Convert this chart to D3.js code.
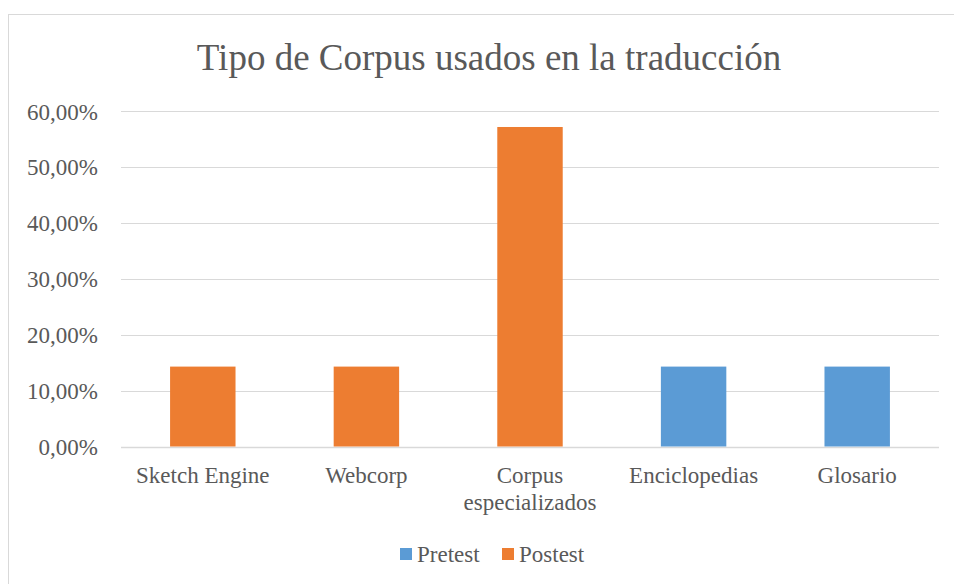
<!DOCTYPE html>
<html>
<head>
<meta charset="utf-8">
<script src="https://cdn.jsdelivr.net/npm/d3@7"></script>
</head>
<body style="margin:0">
<div id="chart"></div>
<script>
// data
var categories = ["Sketch Engine", "Webcorp", "Corpus especializados", "Enciclopedias", "Glosario"];
var seriesNames = ["Pretest", "Postest"];
var pretest = [0, 0, 0, 0.1429, 0.1429];
var postest = [0.1429, 0.1429, 0.5714, 0, 0];
var yTicks = [0, 0.1, 0.2, 0.3, 0.4, 0.5, 0.6];
var colors = ["#5B9BD5", "#ED7D31"];

var width = 954, height = 584;
var plot = { left: 121, right: 939, top: 111, bottom: 446.5 };
var serif = "'Liberation Serif'";
var textColor = "#595959";

var svg = d3.select("#chart")
    .append("svg")
    .attr("width", width)
    .attr("height", height);

// chart area border
svg.append("rect")
    .attr("x", 8.5)
    .attr("y", 14.5)
    .attr("width", 960)
    .attr("height", 600)
    .attr("fill", "#fff")
    .attr("stroke", "#D9D9D9")
    .attr("stroke-width", 1);

// title
svg.append("text")
    .attr("x", 489)
    .attr("y", 70)
    .attr("text-anchor", "middle")
    .style("font-family", serif)
    .attr("font-size", "37px")
    .attr("fill", textColor)
    .text("Tipo de Corpus usados en la traducción");

var xScale = d3.scaleBand()
    .domain(categories)
    .range([plot.left, plot.right])
    .padding(0);

var yScale = d3.scaleLinear()
    .domain([0, 0.6])
    .range([plot.bottom, plot.top]);

var fmt = function(d) { return d3.format(".2f")(d * 100).replace(".", ",") + "%"; };

// gridlines
svg.append("g")
    .selectAll("line")
    .data(yTicks)
    .enter()
    .append("line")
    .attr("x1", plot.left)
    .attr("x2", plot.right)
    .attr("y1", function(d) { return Math.round(yScale(d)) + 0.5; })
    .attr("y2", function(d) { return Math.round(yScale(d)) + 0.5; })
    .attr("stroke", "#D9D9D9")
    .attr("stroke-width", function(d) { return d === 0 ? 1.5 : 1; });

// y axis labels
var yAxis = d3.axisLeft(yScale)
    .tickValues(yTicks)
    .tickFormat(fmt)
    .tickSize(0)
    .tickPadding(0);

var yG = svg.append("g")
    .attr("transform", "translate(98,0)")
    .call(yAxis);
yG.select(".domain").remove();
yG.selectAll("text")
    .style("font-family", serif)
    .attr("font-size", "23px")
    .attr("fill", textColor)
    .attr("dy", "0.35em");

// bars (series overlap, centred on the category)
var barW = xScale.bandwidth() / 2.5;
var series = [pretest, postest];
series.forEach(function(values, s) {
    svg.append("g")
        .selectAll("rect")
        .data(values)
        .enter()
        .append("rect")
        .attr("x", function(d, i) { return xScale(categories[i]) + xScale.bandwidth() / 2 - barW / 2; })
        .attr("y", function(d) { return yScale(d); })
        .attr("width", barW)
        .attr("height", function(d) { return plot.bottom - yScale(d); })
        .attr("fill", colors[s]);
});

// category labels
var xLabels = { "Corpus especializados": ["Corpus", "especializados"] };
svg.append("g")
    .selectAll("text")
    .data(categories)
    .enter()
    .append("text")
    .attr("x", function(d) { return xScale(d) + xScale.bandwidth() / 2; })
    .attr("y", 483)
    .attr("text-anchor", "middle")
    .style("font-family", serif)
    .attr("font-size", "23px")
    .attr("fill", textColor)
    .each(function(d) {
        var lines = xLabels[d] || [d];
        var t = d3.select(this);
        lines.forEach(function(l, k) {
            t.append("tspan")
                .attr("x", xScale(d) + xScale.bandwidth() / 2)
                .attr("dy", k === 0 ? 0 : 27)
                .text(l);
        });
    });

// legend
var legendX = [400, 502];
var legend = svg.append("g")
    .selectAll("g")
    .data(seriesNames)
    .enter()
    .append("g")
    .attr("transform", function(d, i) { return "translate(" + legendX[i] + ",548)"; });
legend.append("rect")
    .attr("width", 12)
    .attr("height", 12)
    .attr("fill", function(d, i) { return colors[i]; });
legend.append("text")
    .attr("x", 17)
    .attr("y", 14)
    .style("font-family", serif)
    .attr("font-size", "23px")
    .attr("fill", textColor)
    .text(function(d) { return d; });
</script>
</body>
</html>
